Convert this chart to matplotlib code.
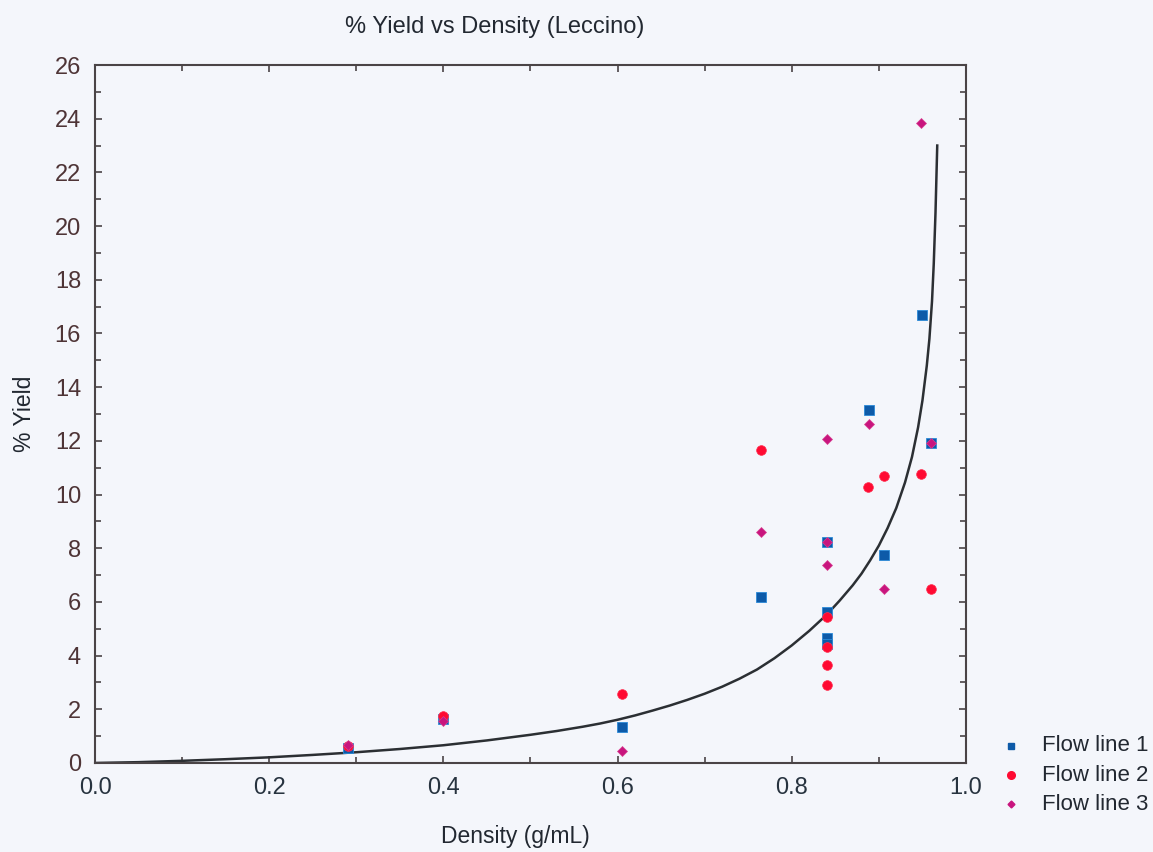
import matplotlib
matplotlib.use('Agg')

import matplotlib.pyplot as plt
from matplotlib.ticker import MultipleLocator


# ===============================
# DATA
# ===============================
flow1_x = [0.29, 0.40, 0.605, 0.765, 0.84, 0.84, 0.84, 0.84, 0.889, 0.906, 0.949, 0.96]
flow1_y = [0.55, 1.62, 1.34, 6.18, 5.62, 4.65, 4.45, 8.23, 13.15, 7.75, 16.68, 11.92]

flow2_x = [0.29, 0.40, 0.605, 0.765, 0.84, 0.84, 0.84, 0.84, 0.887, 0.906, 0.948, 0.96]
flow2_y = [0.63, 1.75, 2.57, 11.66, 5.44, 4.32, 3.65, 2.90, 10.28, 10.69, 10.76, 6.48]

flow3_x = [0.29, 0.40, 0.605, 0.765, 0.84, 0.84, 0.84, 0.889, 0.906, 0.948, 0.96]
flow3_y = [0.67, 1.56, 0.45, 8.60, 12.07, 8.23, 7.37, 12.63, 6.48, 23.84, 11.92]

# fitted curve
fit_x = [0.0, 0.05, 0.1, 0.15, 0.2, 0.25, 0.3, 0.35, 0.4, 0.45, 0.5, 0.53,
         0.56, 0.58, 0.6, 0.62, 0.64, 0.66, 0.68, 0.7, 0.72, 0.74, 0.76, 0.78, 0.8,
         0.82, 0.84, 0.855, 0.87, 0.88, 0.89, 0.9, 0.91, 0.92, 0.93, 0.938,
         0.945, 0.95, 0.955, 0.958, 0.961, 0.963, 0.965, 0.967]
fit_y = [0.0, 0.03, 0.08, 0.14, 0.21, 0.3, 0.4, 0.52, 0.66, 0.84, 1.05, 1.19,
         1.35, 1.47, 1.61, 1.77, 1.95, 2.14, 2.35, 2.58, 2.84, 3.14, 3.48, 3.9, 4.38,
         4.92, 5.52, 6.05, 6.62, 7.05, 7.55, 8.1, 8.75, 9.5, 10.45, 11.4,
         12.5, 13.5, 14.8, 15.8, 17.2, 18.6, 20.5, 23.0]

series_labels = ["Flow line 1", "Flow line 2", "Flow line 3"]


# ===============================
# STYLE
# ===============================
plt.rcParams['font.family'] = ['Liberation Sans', 'DejaVu Sans']
bg = '#f4f6fb'
spine_col = '#4a4446'
ylab_col = '#4e3436'
xlab_col = '#27333f'
txt_col = '#222831'


# ===============================
# PLOT
# ===============================
fig = plt.figure(figsize=(11.53, 8.52), dpi=100, facecolor=bg)
ax = fig.add_axes([0.0824, 0.1045, 0.7554, 0.8192], facecolor=bg)

ax.plot(fit_x, fit_y, '-', color='#2b2f33', linewidth=1.8, zorder=2)

ax.plot(flow1_x, flow1_y, 's', color='#0d5aa8', markeredgecolor='#2a8ad8',
        markeredgewidth=0.6, markersize=6.5, linestyle='none', zorder=3)
ax.plot(flow2_x, flow2_y, 'o', color='#ff0a32', markeredgecolor='#ff3050',
        markeredgewidth=0.5, markersize=7, linestyle='none', zorder=4)
ax.plot(flow3_x, flow3_y, 'D', color='#c8157e', markeredgecolor='#d84090',
        markeredgewidth=0.5, markersize=5, linestyle='none', zorder=5)

ax.set_xlim(0, 1.0)
ax.set_ylim(0, 26)

ax.xaxis.set_major_locator(MultipleLocator(0.2))
ax.xaxis.set_minor_locator(MultipleLocator(0.1))
ax.yaxis.set_major_locator(MultipleLocator(2))
ax.yaxis.set_minor_locator(MultipleLocator(1))
ax.xaxis.set_major_formatter(plt.FormatStrFormatter('%.1f'))

ax.tick_params(which='both', direction='in', top=True, right=True,
               color=spine_col, width=1.2)
ax.tick_params(which='major', length=5)
ax.tick_params(which='minor', length=4)
ax.tick_params(axis='y', labelsize=17, labelcolor=ylab_col, pad=10)
ax.tick_params(axis='x', labelsize=17, labelcolor=xlab_col, pad=10)

for s in ax.spines.values():
    s.set_color(spine_col)
    s.set_linewidth(1.5)

fig.text(0.429, 0.968, "% Yield vs Density (Leccino)", ha='center', va='center',
         fontsize=17, color=txt_col)
fig.text(0.447, 0.018, "Density (g/mL)", ha='center', va='center',
         fontsize=16.5, color=txt_col)
fig.text(0.021, 0.514, "% Yield", ha='center', va='center', rotation=90,
         fontsize=16.5, color=txt_col)

# legend
leg_y = [0.125, 0.09, 0.056]
fig.lines.append(plt.Line2D([0.877], [leg_y[0]], marker='s', color='#0d5aa8',
                            markersize=5, transform=fig.transFigure))
fig.lines.append(plt.Line2D([0.877], [leg_y[1]], marker='o', color='#ff0a32',
                            markersize=5.5, transform=fig.transFigure))
fig.lines.append(plt.Line2D([0.877], [leg_y[2]], marker='D', color='#c8157e',
                            markersize=3.5, transform=fig.transFigure))
for yy, lab in zip(leg_y, series_labels):
    fig.text(0.904, yy, lab, ha='left', va='center', fontsize=16, color=txt_col)

plt.savefig("out.png", dpi=100, facecolor=bg)
plt.close()
